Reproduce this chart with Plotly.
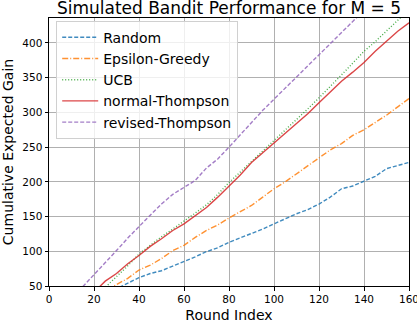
import plotly.graph_objects as go

rounds = list(range(0, 161, 5))

random_gain = [0, 8, 15, 23, 30, 38, 46, 54, 62, 68, 72, 78.6, 85, 92, 99.5, 105, 113,
               119, 125, 132, 139.5, 147, 154, 160, 168, 178, 190, 194, 201, 208, 219, 224, 228]
eps_gain = [0, 9, 17, 26, 34, 43, 51, 61, 73, 80, 89.5, 101, 108.6, 120, 130, 138, 148,
            157, 166, 178, 190, 200, 211.5, 224, 235, 246, 255, 267, 275, 285, 296, 308, 320]
ucb_gain = [0, 9, 18, 27, 37, 48, 63, 79, 96, 109, 121, 132, 143, 155, 167, 182, 199,
            214, 229, 244, 260, 275, 289, 305, 321, 337, 354, 371, 388, 402, 417, 432, 448]
normal_ts_gain = [0, 9, 18, 28, 41, 57, 68, 82, 94, 107, 118, 130, 139.5, 151, 163, 178, 194,
                  210, 228, 242, 256, 270, 284, 298, 314, 330, 345, 358, 372, 388, 402, 417, 429]
revised_ts_gain = [0, 15, 32, 49, 66, 84, 101, 119, 136, 152, 168, 182, 192, 202, 220, 233, 250,
                   268, 286, 303, 319, 335, 351, 367, 383, 399, 415, 431, 447, 463, 479, 495, 511]

series_names = ["Random", "Epsilon-Greedy", "UCB", "normal-Thompson", "revised-Thompson"]
series_values = [random_gain, eps_gain, ucb_gain, normal_ts_gain, revised_ts_gain]
colors = ["#1f77b4", "#ff7f0e", "#2ca02c", "#d62728", "#9467bd"]
dashes = ["4px,2px", "6px,2px,1px,2px", "1px,2px", "solid", "4px,2px"]

x_ticks = list(range(0, 161, 20))
y_ticks = list(range(50, 401, 50))

fig = go.Figure()
for name, vals, c, d in zip(series_names, series_values, colors, dashes):
    fig.add_trace(go.Scatter(x=rounds, y=vals, mode="lines", name=name,
                             line=dict(color=c, width=1.4, dash=d), opacity=0.85))

font_family = "DejaVu Sans"
fig.update_layout(
    width=417, height=326,
    margin=dict(l=49, r=8, t=18, b=40, autoexpand=False),
    paper_bgcolor="white", plot_bgcolor="white",
    font=dict(family=font_family, color="black"),
    title=dict(text="Simulated Bandit Performance for M = 5", x=0.5, xref="paper",
               y=1 - 8 / 326, yref="container", yanchor="middle", automargin=False,
               font=dict(size=17, family=font_family, color="black")),
    showlegend=True,
    legend=dict(x=0.02, y=0.99, xanchor="left", yanchor="top", itemwidth=36,
                bgcolor="rgba(255,255,255,0.8)", bordercolor="#d0d0d0", borderwidth=1,
                font=dict(size=14, family=font_family, color="black")),
)
fig.update_xaxes(range=[0, 160], tickvals=x_ticks, ticks="outside", ticklen=3.5, tickwidth=1,
                 tickcolor="black", showline=True, linecolor="black", linewidth=1, mirror=True,
                 showgrid=True, gridcolor="#b0b0b0", gridwidth=1, zeroline=False,
                 automargin=False, ticklabeloverflow="allow",
                 tickfont=dict(size=10.5, family=font_family, color="black"),
                 title=dict(text="Round Index", standoff=6,
                            font=dict(size=14, family=font_family, color="black")))
fig.update_yaxes(range=[50, 436], tickvals=y_ticks, ticks="outside", ticklen=3.5, tickwidth=1,
                 tickcolor="black", showline=True, linecolor="black", linewidth=1, mirror=True,
                 showgrid=True, gridcolor="#b0b0b0", gridwidth=1, zeroline=False,
                 automargin=False,
                 tickfont=dict(size=10.5, family=font_family, color="black"),
                 title=dict(text="Cumulative Expected Gain", standoff=6,
                            font=dict(size=14, family=font_family, color="black")))

fig.write_html("out.html", config={"displayModeBar": False},
               post_script="document.body.style.margin='0';document.body.style.overflow='hidden';")
